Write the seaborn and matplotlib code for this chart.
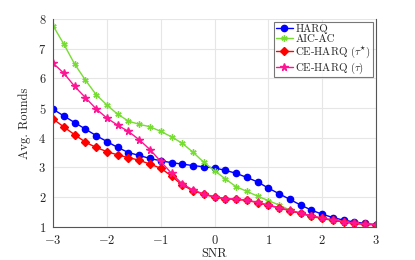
import numpy as np
import pandas as pd
import seaborn as sns
import matplotlib.pyplot as plt

# SNR grid: -3 .. 3 in 0.2 steps
snr = [round(-3 + 0.2 * i, 1) for i in range(31)]

harq = [4.96, 4.73, 4.51, 4.29, 4.07, 3.87, 3.67, 3.50, 3.40, 3.30,
        3.22, 3.16, 3.11, 3.06, 3.02, 2.98, 2.90, 2.80, 2.66, 2.51,
        2.30, 2.11, 1.92, 1.73, 1.56, 1.42, 1.31, 1.22, 1.16, 1.11, 1.07]
aic_ac = [7.77, 7.15, 6.48, 5.94, 5.45, 5.10, 4.79, 4.56, 4.45, 4.37,
          4.21, 4.03, 3.81, 3.51, 3.17, 2.89, 2.61, 2.35, 2.19, 2.03,
          1.88, 1.73, 1.56, 1.44, 1.34, 1.27, 1.21, 1.16, 1.12, 1.09, 1.07]
ce_harq_opt = [4.63, 4.36, 4.10, 3.85, 3.67, 3.53, 3.42, 3.33, 3.24, 3.11,
               2.97, 2.71, 2.40, 2.22, 2.09, 2.00, 1.94, 1.92, 1.89, 1.81,
               1.72, 1.63, 1.54, 1.45, 1.36, 1.28, 1.22, 1.16, 1.11, 1.08, 1.06]
ce_harq = [6.51, 6.17, 5.73, 5.35, 4.97, 4.66, 4.42, 4.21, 3.93, 3.60,
           3.20, 2.80, 2.44, 2.24, 2.10, 2.01, 1.95, 1.93, 1.90, 1.82,
           1.73, 1.64, 1.55, 1.46, 1.37, 1.29, 1.23, 1.17, 1.12, 1.09, 1.07]

labels = ["HARQ", "AIC-AC", r"CE-HARQ $(\tau^{\star})$", r"CE-HARQ $(\tau)$"]
series = [harq, aic_ac, ce_harq_opt, ce_harq]
colors = ["#0000ff", "#77dd33", "#ff0000", "#ff1493"]
markers = ["o", (6, 2, 0), "D", "*"]
msizes = [4.5, 4.5, 3.6, 5.5]

sns.set_style("white")
plt.rcParams["font.family"] = ["cmr10"]
plt.rcParams["mathtext.fontset"] = "cm"
plt.rcParams["axes.unicode_minus"] = False
plt.rcParams["axes.formatter.use_mathtext"] = True

fig = plt.figure(figsize=(4.15, 2.6), dpi=100)
ax = fig.add_axes([0.128, 0.128, 0.778, 0.799])

for vals, lab, c, m, ms in zip(series, labels, colors, markers, msizes):
    sns.lineplot(x=snr, y=vals, ax=ax, color=c, marker=m, markersize=ms,
                 markeredgecolor=c, markeredgewidth=1.0, linewidth=1.0,
                 label=lab)

ax.set_xlim(-3, 3)
ax.set_ylim(1, 8)
ax.set_xticks(range(-3, 4))
ax.set_yticks(range(1, 9))
ax.grid(True, color="#e6e6e6", linewidth=0.8)
ax.tick_params(direction="in", length=3, labelsize=9, colors="#262626")
ax.tick_params(axis="x", pad=5)
ax.tick_params(axis="y", pad=5)
ax.set_xlabel("SNR", fontsize=9, labelpad=1)
ax.set_ylabel("Avg. Rounds", fontsize=9, labelpad=5)

for side in ["left", "bottom", "right"]:
    ax.spines[side].set_color("#555555")
    ax.spines[side].set_linewidth(0.8)
ax.spines["top"].set_visible(False)

leg = ax.legend(loc="upper right", fontsize=7.8, frameon=True, fancybox=False,
                borderpad=0.15, handlelength=1.6, handletextpad=0.2,
                labelspacing=0.05, borderaxespad=0.3)
leg.get_frame().set_edgecolor("#555555")
leg.get_frame().set_linewidth(0.8)

fig.savefig("out.png", dpi=100)
